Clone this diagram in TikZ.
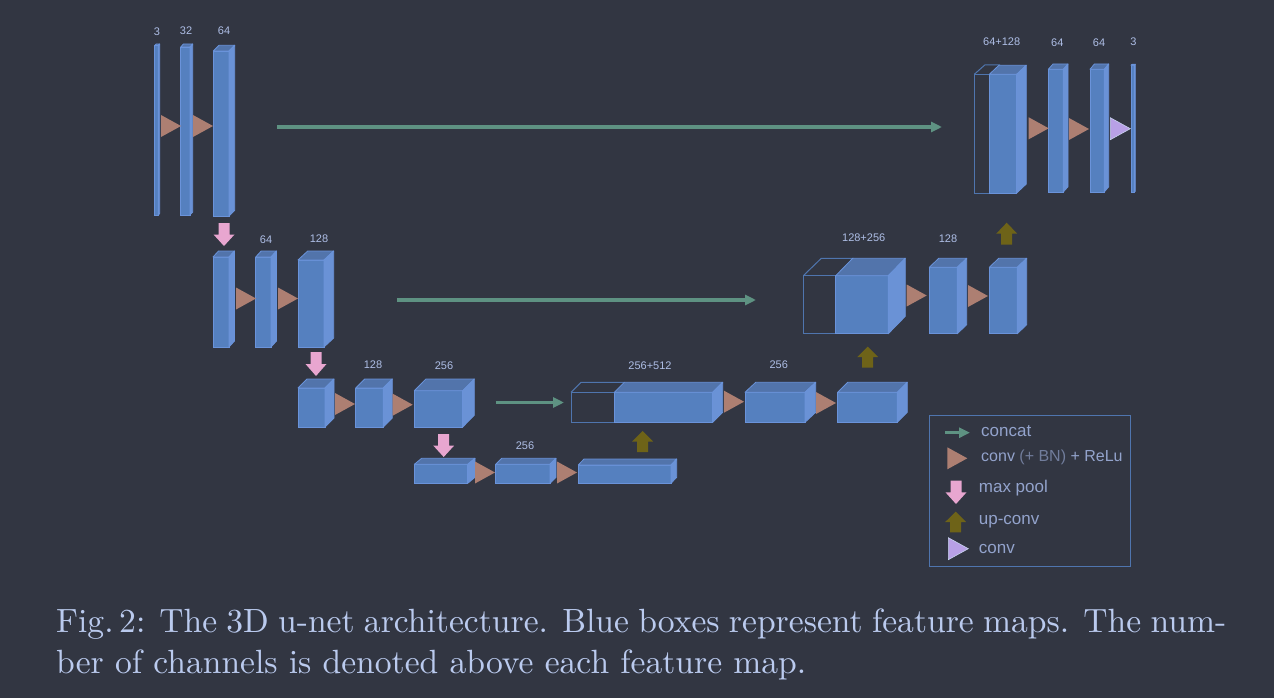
\documentclass[tikz,border=0pt]{standalone}
\usepackage{fontspec}
\setsansfont{Liberation Sans}
\newfontfamily\capfont{lmroman10-regular.otf}
\usetikzlibrary{arrows.meta}
\definecolor{bgdark}{HTML}{323642}
\definecolor{mapfront}{HTML}{5580BF}
\definecolor{mapside}{HTML}{6A92D6}
\definecolor{maptop}{HTML}{5274AB}
\definecolor{mapedge}{HTML}{6A93DA}
\definecolor{ghostedge}{HTML}{4F75AE}
\definecolor{convbrown}{HTML}{AD7F72}
\definecolor{poolpink}{HTML}{E8A6D0}
\definecolor{upolive}{HTML}{6E6318}
\definecolor{lastconv}{HTML}{B8A0E6}
\definecolor{concatgreen}{HTML}{5E9282}
\definecolor{labeltext}{HTML}{AEBEE6}
\definecolor{legendtext}{HTML}{93A3CC}
\definecolor{captiontext}{HTML}{BACAEE}
\tikzset{
    mapface/.style={rectangle, draw=mapedge, fill=mapfront, line width=0.8pt, inner sep=0pt, outer sep=0pt},
    mapshade/.style={draw=mapedge, line width=0.8pt, line join=round},
    ghost/.style={draw=ghostedge, line width=1pt},
    conv/.style={fill=convbrown},
    lastc/.style={fill=lastconv, draw=labeltext!70!white, line width=0.6pt},
    pool/.style={fill=poolpink},
    upconv/.style={fill=upolive},
    concat/.style={concatgreen, line width=3.5pt, -{Triangle[length=11pt,width=10pt]}},
    dimlabel/.style={text=labeltext, font=\sffamily\fontsize{11}{13}\selectfont, inner sep=0pt, yshift=-0.8pt},
    legendlabel/.style={text=legendtext, font=\sffamily\fontsize{17}{20}\selectfont, anchor=west, inner sep=0pt}
}
% name, x, bottom, width, height, dx, dy
\newcommand{\fmap}[7]{
    \node[mapface, anchor=south west, minimum width=#4pt, minimum height=#5pt] (#1) at (#2,#3) {};
    \fill[maptop, mapshade] (#1.north west) -- ++(#6,-#7) -- ++(#4,0) -- (#1.north east) -- cycle;
    \fill[mapside, mapshade] (#1.north east) -- ++(#6,-#7) -- ++(0,#5) -- (#1.south east) -- cycle;
}
% outline left of a concatenated map: name, x, bottom, width, height, dx, dy
\newcommand{\ghostmap}[7]{
    \node[ghost, rectangle, inner sep=0pt, outer sep=0pt, anchor=south west, minimum width=#4pt, minimum height=#5pt] (#1) at (#2,#3) {};
    \draw[ghost] (#1.north west) -- ++(#6,-#7) -- ++(#4,0);
}
% style, x, y of the tip, half height
\newcommand{\convtri}[3][conv]{
    \path[#1] (#2,#3-11) -- (#2+20,#3) -- (#2,#3+11) -- cycle;
}
% style, centre x, tail y, head y
\newcommand{\blockarrow}[4]{
    \path[#1] (#2-5.5,#3) -- (#2-5.5,{#4+(#3-#4)/2}) -- (#2-10.5,{#4+(#3-#4)/2}) -- (#2,#4) -- (#2+10.5,{#4+(#3-#4)/2}) -- (#2+5.5,{#4+(#3-#4)/2}) -- (#2+5.5,#3) -- cycle;
}
\begin{document}
\begin{tikzpicture}[x=1pt, y=-1pt]
    \useasboundingbox (0,0) rectangle (1274,698);
    \fill[bgdark] (0,0) rectangle (1274,698);

    % encoder, first row
    \fmap{enca}{154.7}{215}{3.5}{169.5}{1.5}{1.5}
    \fmap{encb}{180.7}{215}{9.3}{168}{2.7}{3}
    \fmap{encc}{213.3}{216}{15.7}{165}{5.7}{5.7}
    \convtri{161}{126}
    \convtri{193}{126}
    \blockarrow{pool}{224}{223}{246}

    % encoder, second row
    \fmap{encd}{213}{347}{16}{90}{5.5}{6}
    \fmap{ence}{255.7}{347}{15.3}{90}{5.5}{6}
    \fmap{encf}{298}{347}{26}{87}{9.7}{9}
    \convtri{236}{298.5}
    \convtri{278}{298.5}
    \blockarrow{pool}{316}{352}{376}

    % encoder, third row
    \fmap{encg}{298}{427}{27}{39}{9}{9}
    \fmap{ench}{355.7}{427}{27.6}{39}{9}{9}
    \fmap{enci}{414.3}{427}{48.4}{36.3}{11.6}{11.7}
    \convtri{335}{404}
    \convtri{392.7}{404.7}
    \blockarrow{pool}{443.7}{434}{457}

    % bottom row
    \fmap{botta}{414.3}{483.3}{53.4}{19}{7.3}{6}
    \fmap{bottb}{495.7}{483.3}{54.3}{19}{6}{6}
    \fmap{bottc}{578.3}{483.3}{92.7}{18.3}{5.7}{6}
    \convtri{475}{472.5}
    \convtri{557}{472.5}
    \blockarrow{upconv}{642.7}{452}{431}

    % decoder, third row
    \ghostmap{ghostc}{571}{422.3}{43.3}{30}{10}{10}
    \fmap{decg}{614.3}{422.3}{98.4}{30}{10}{10}
    \fmap{dech}{745}{422.3}{60}{30}{10.7}{10}
    \fmap{deci}{837.7}{422.3}{59.6}{30}{10}{10}
    \convtri{724}{401.7}
    \convtri{816}{403}
    \blockarrow{upconv}{867.7}{367.7}{346.7}

    % decoder, second row
    \ghostmap{ghostb}{803.3}{333.7}{32.4}{58}{18}{17.4}
    \fmap{decd}{835.7}{333.7}{52.6}{58}{17}{17.4}
    \fmap{dece}{929.3}{333.7}{28}{66.4}{9.4}{9}
    \fmap{decf}{989.3}{333.7}{28}{66.4}{9.4}{9}
    \convtri{906.7}{295.5}
    \convtri{968}{296}
    \blockarrow{upconv}{1006.7}{244.7}{222.7}

    % decoder, first row
    \ghostmap{ghosta}{974.3}{193}{15}{118.7}{10.7}{9.5}
    \fmap{deca}{989.3}{193}{27.4}{118.7}{9.6}{9}
    \fmap{decb}{1048.3}{192}{15}{122.7}{4.7}{5.3}
    \fmap{decc}{1090}{192}{14.3}{122.7}{4.4}{5.3}
    \fmap{decz}{1131}{192.3}{3.3}{127}{1}{1}
    \convtri{1028.7}{128.3}
    \convtri{1069}{129}
    \convtri[lastc]{1110.3}{128.7}

    % skip connections
    \coordinate (skipas) at (277,127);
    \coordinate (skipae) at (942,127);
    \coordinate (skipbs) at (397,300);
    \coordinate (skipbe) at (756,300);
    \coordinate (skipcs) at (495.7,402.5);
    \coordinate (skipce) at (564,402.5);
    \draw[concat] (skipas) -- (skipae);
    \draw[concat] (skipbs) -- (skipbe);
    \draw[concat] (skipcs) -- (skipce);

    % channel counts
    \foreach \i/\px/\py/\txt in {a/157/31/3, b/186/30/32, c/224/30/64, d/266/239/64, e/319/238/128,
        f/373/364/128, g/444/365/256, h/525/445/256, i/650/365/256+512, j/778.7/364/256,
        k/863.7/237.3/128+256, l/948/238/128, m/1001.7/40.7/64+128, n/1057.3/41.7/64,
        o/1099/41.7/64, p/1133.3/41/3}
        \node[dimlabel] (dim\i) at (\px,\py) {\txt};

    % legend
    \node[rectangle, draw=ghostedge, line width=1pt, inner sep=0pt, outer sep=0pt, anchor=north west,
        minimum width=201pt, minimum height=151.7pt] (legend) at (929.7,415) {};
    \coordinate (legas) at (945,432.7);
    \coordinate (legae) at (970,432.7);
    \draw[concat] (legas) -- (legae);
    \convtri{947.3}{458.3}
    \blockarrow{pool}{956}{480.7}{504}
    \blockarrow{upconv}{955.7}{532.3}{511.7}
    \convtri[lastc]{948.3}{548.7}
    \node[legendlabel] (legconcat) at (981,431) {concat};
    \node[legendlabel, font=\sffamily\fontsize{16}{20}\selectfont] (legconv) at (981,457.7) {conv {\color{legendtext!65!bgdark}(+ BN)} + ReLu};
    \node[legendlabel] (legpool) at (978.7,488) {max pool};
    \node[legendlabel] (legup) at (978.7,522) {up-conv};
    \node[legendlabel] (leglast) at (978.7,549) {conv};

    % caption
    \node[anchor=north west, inner sep=0pt, align=left, text=captiontext, font=\capfont\fontsize{33.6}{41}\selectfont] (caption) at (56,608.5)
        {\makebox[1170pt][s]{Fig.\,2: The 3D u-net architecture. Blue boxes represent feature maps. The num-}\\
        ber of channels is denoted above each feature map.};
\end{tikzpicture}
\end{document}
